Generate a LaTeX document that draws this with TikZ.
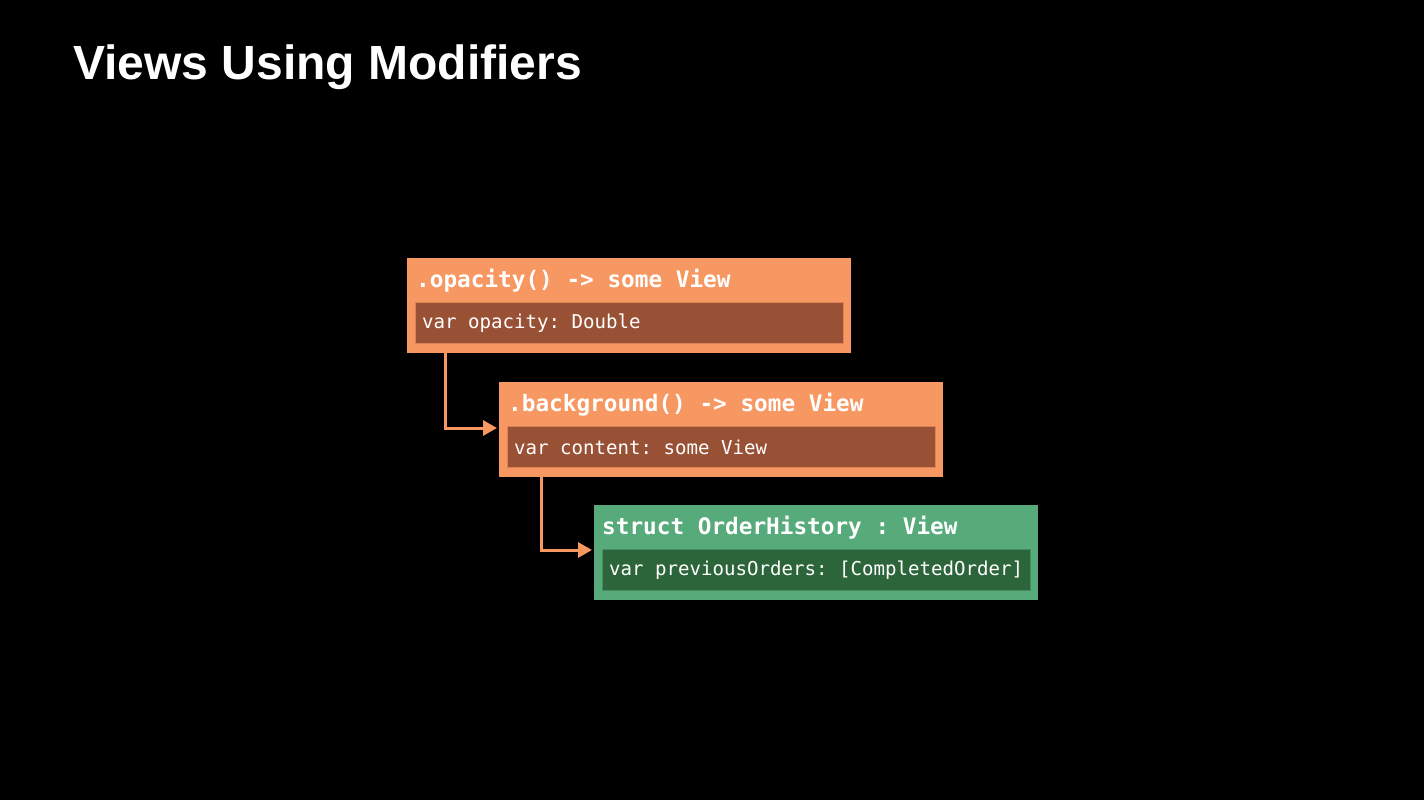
\documentclass[tikz,border=0pt]{standalone}
\usepackage{fontspec}
\setmainfont{Liberation Sans}
\setmonofont{DejaVu Sans Mono}
\usetikzlibrary{arrows.meta,positioning}
\definecolor{modorange}{RGB}{247,151,97}
\definecolor{modbrown}{RGB}{153,81,53}
\definecolor{viewgreen}{RGB}{87,170,121}
\definecolor{viewdark}{RGB}{44,101,57}

\tikzset{
  outerbox/.style={rectangle, inner sep=0pt, minimum width=444pt, minimum height=95pt, anchor=north west},
  innerbox/.style={rectangle, inner sep=0pt, minimum width=428pt, minimum height=41pt, anchor=north west},
  bodytext/.style={anchor=west, inner sep=0pt, text=white, font=\ttfamily\fontsize{19.1}{21}\selectfont},
  headtext/.style={anchor=base west, inner sep=0pt, text=white, font=\ttfamily\bfseries\fontsize{22.7}{24}\selectfont},
  conn/.style={draw=modorange, line width=3pt, -{Triangle[length=14pt,width=15pt]}, shorten >=2pt}
}

\begin{document}
\begin{tikzpicture}[x=1pt,y=-1pt]
\fill[black] (0,0) rectangle (1424,800);
\node[anchor=base west, inner sep=0pt, text=white, font=\bfseries\fontsize{48}{52}\selectfont] (title) at (73,80) {Views Using Modifiers};

% .opacity()
\node[outerbox, fill=modorange] (opacity) at (407,258) {};
\node[headtext] (opacityhead) at (416,287) {.opacity() -> some View};
\node[innerbox, fill=modbrown, draw=modorange!70!modbrown, line width=0.8pt] (opacityvar) at (415,302) {};
\node[bodytext, right=7pt of opacityvar.west] (opacitytext) {var opacity: Double};

% .background()
\node[outerbox, fill=modorange] (background) at (499,382) {};
\node[headtext] (backgroundhead) at (508,411) {.background() -> some View};
\node[innerbox, fill=modbrown, draw=modorange!70!modbrown, line width=0.8pt] (backgroundvar) at (507,426) {};
\node[bodytext, right=7pt of backgroundvar.west] (backgroundtext) {var content: some View};

% struct OrderHistory
\node[outerbox, fill=viewgreen] (history) at (594,505) {};
\node[headtext] (historyhead) at (602,534) {struct OrderHistory : View};
\node[innerbox, fill=viewdark, draw=viewgreen!60!viewdark, line width=0.8pt] (historyvar) at (602,549) {};
\node[bodytext, right=7pt of historyvar.west] (historytext) {var previousOrders: [CompletedOrder]};

\draw[conn] ([xshift=38pt]opacity.south west) |- ([yshift=-46pt]background.north west);
\draw[conn] ([xshift=42pt]background.south west) |- ([yshift=-45pt]history.north west);
\end{tikzpicture}
\end{document}
